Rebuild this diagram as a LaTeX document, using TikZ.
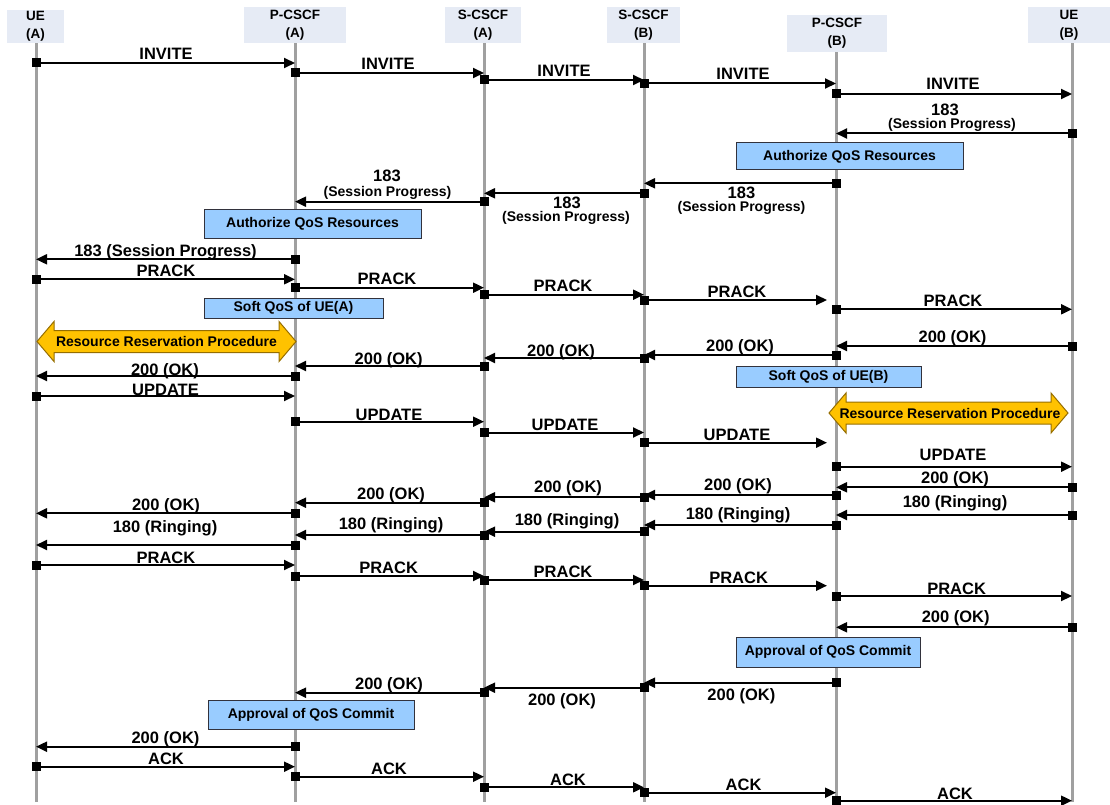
\documentclass[tikz,border=0pt]{standalone}
\usepackage{fontspec}
\setmainfont{Liberation Sans}
\usetikzlibrary{arrows.meta,calc}
\definecolor{hdrfill}{RGB}{230,235,245}
\definecolor{lifegray}{RGB}{160,160,160}
\definecolor{noteblue}{RGB}{153,204,255}
\definecolor{notedraw}{RGB}{50,50,60}
\definecolor{rrpfill}{RGB}{255,194,0}
\definecolor{rrpdraw}{RGB}{150,110,0}
\newcommand\Msg[4][]{%
  \draw[msg,#1] (#2|-0,#4) -- (#3|-0,#4);
  \fill (#2|-0,#4) +(-4.5,-4.5) rectangle +(4.5,4.5);}
\newcommand\RRP[4]{%
  \draw[rrp] (#1,#3) -- (#1+17,#3-20) -- (#1+17,#3-11) -- (#2-17,#3-11) -- (#2-17,#3-20)
    -- (#2,#3) -- (#2-17,#3+20) -- (#2-17,#3+11) -- (#1+17,#3+11) -- (#1+17,#3+20) -- cycle;}
\begin{document}
\begin{tikzpicture}[x=1pt,y=-1pt,
  hdr/.style={fill=hdrfill, inner sep=0pt, align=center, font=\fontsize{13.5}{18}\selectfont\bfseries},
  life/.style={draw=lifegray, line width=3pt},
  msg/.style={line width=2pt, -{Triangle[length=11pt,width=10pt]}},
  lbl/.style={font=\fontsize{16.5}{19}\selectfont\bfseries, anchor=base, inner sep=0pt},
  sublbl/.style={font=\fontsize{14}{17}\selectfont\bfseries, anchor=base, inner sep=0pt},
  note/.style={draw=notedraw, line width=1pt, fill=noteblue, inner sep=0pt, font=\fontsize{14}{17}\selectfont\bfseries},
  rrp/.style={draw=rrpdraw, line width=1pt, fill=rrpfill},
  rrptext/.style={inner sep=0pt, font=\fontsize{14}{17}\selectfont\bfseries}
]
\useasboundingbox (0,0) rectangle (1110,805);
% headers
\node[hdr, minimum width=57, minimum height=33] (hua) at (35.5,26.5) {UE\\(A)};
\node[hdr, minimum width=102, minimum height=36] (hpa) at (295,25) {P-CSCF\\(A)};
\node[hdr, minimum width=76, minimum height=36] (hsa) at (483,25) {S-CSCF\\(A)};
\node[hdr, minimum width=73, minimum height=36] (hsb) at (643.5,25) {S-CSCF\\(B)};
\node[hdr, minimum width=100, minimum height=37] (hpb) at (837,33.5) {P-CSCF\\(B)};
\node[hdr, minimum width=82, minimum height=36] (hub) at (1069,25) {UE\\(B)};
% lifeline positions
\coordinate (ua) at (36,0);
\coordinate (pa) at (295,0);
\coordinate (sa) at (484,0);
\coordinate (sb) at (644,0);
\coordinate (pb) at (836,0);
\coordinate (ub) at (1072,0);
\draw[life] (ua|-hua.south) -- (ua|-0,802);
\draw[life] (pa|-hpa.south) -- (pa|-0,802);
\draw[life] (sa|-hsa.south) -- (sa|-0,802);
\draw[life] (sb|-hsb.south) -- (sb|-0,802);
\draw[life] (pb|-hpb.south) -- (pb|-0,802);
\draw[life] (ub|-hub.south) -- (ub|-0,802);
% boxes
\node[note, minimum width=227, minimum height=27] (authB) at (849.5,156.5) {Authorize QoS Resources};
\node[note, minimum width=217, minimum height=29] (authA) at (312.5,223.5) {Authorize QoS Resources};
\node[note, minimum width=179, minimum height=20] (softA) at (293.5,308) {Soft QoS of UE(A)};
\node[note, minimum width=185, minimum height=21] (softB) at (828.5,376.5) {Soft QoS of UE(B)};
\node[note, minimum width=184, minimum height=30] (apprB) at (828,652) {Approval of QoS Commit};
\node[note, minimum width=206, minimum height=29] (apprA) at (311,714.5) {Approval of QoS Commit};
% resource reservation
\RRP{37}{296}{341.5}{rrpA}
\node[rrptext] (rrpA) at (166.5,341.5) {Resource Reservation Procedure};
\RRP{829}{1068}{413}{rrpB}
\node[rrptext] (rrpB) at (950,413.5) {Resource Reservation Procedure};
% messages
\Msg{ua}{pa}{63}     \node[lbl] (m1) at (166,60) {INVITE};
\Msg{pa}{sa}{73}     \node[lbl] (m2) at (388,70) {INVITE};
\Msg{sa}{sb}{80}     \node[lbl] (m3) at (564,77) {INVITE};
\Msg{sb}{pb}{83.5}   \node[lbl] (m4) at (743,80) {INVITE};
\Msg{pb}{ub}{94}     \node[lbl] (m5) at (953,90) {INVITE};
\Msg{ub}{pb}{133.5}  \node[lbl] (m6) at (945,116) {183};
                     \node[sublbl] (m6b) at (952,129) {(Session Progress)};
\Msg{pb}{sb}{183.3}  \node[lbl] (m7) at (741.5,198.5) {183};
                     \node[sublbl] (m7b) at (741.5,211.5) {(Session Progress)};
\Msg{sb}{sa}{193.3}  \node[lbl] (m8) at (567,208.3) {183};
                     \node[sublbl] (m8b) at (566,222) {(Session Progress)};
\Msg{sa}{pa}{201.7}  \node[lbl] (m9) at (387,181.7) {183};
                     \node[sublbl] (m9b) at (387.5,196.5) {(Session Progress)};
\Msg{pa}{ua}{259.3}  \node[lbl] (m10) at (165.5,256) {183 (Session Progress)};
\Msg{ua}{pa}{279.3}  \node[lbl] (m11) at (166,276.7) {PRACK};
\Msg{pa}{sa}{287.7}  \node[lbl] (m12) at (387,284.3) {PRACK};
\Msg{sa}{sb}{294.7}  \node[lbl] (m13) at (563,291.7) {PRACK};
\Msg[shorten >=9pt]{sb}{pb}{300} \node[lbl] (m14) at (737,297.7) {PRACK};
\Msg{pb}{ub}{309.3}  \node[lbl] (m15) at (953,306.7) {PRACK};
\Msg{ub}{pb}{346}    \node[lbl] (m16) at (952.5,342.7) {200 (OK)};
\Msg{pb}{sb}{355}    \node[lbl] (m17) at (740,351.7) {200 (OK)};
\Msg{sb}{sa}{358}    \node[lbl] (m18) at (561,356) {200 (OK)};
\Msg{sa}{pa}{366}    \node[lbl] (m19) at (388.6,364) {200 (OK)};
\Msg{pa}{ua}{376}    \node[lbl] (m20) at (165,375) {200 (OK)};
\Msg{ua}{pa}{396}    \node[lbl] (m21) at (165.5,395) {UPDATE};
\Msg{pa}{sa}{421.7}  \node[lbl] (m22) at (389,420) {UPDATE};
\Msg{sa}{sb}{432.5}  \node[lbl] (m23) at (565,430.7) {UPDATE};
\Msg[shorten >=9pt]{sb}{pb}{442.7} \node[lbl] (m24) at (737,440.7) {UPDATE};
\Msg{pb}{ub}{466.7}  \node[lbl] (m25) at (953,460.7) {UPDATE};
\Msg{ub}{pb}{487.3}  \node[lbl] (m26) at (955,483.3) {200 (OK)};
\Msg{pb}{sb}{495}    \node[lbl] (m27) at (738,490.7) {200 (OK)};
\Msg{sb}{sa}{497.3}  \node[lbl] (m28) at (568,492.7) {200 (OK)};
\Msg{sa}{pa}{502.7}  \node[lbl] (m29) at (391,499.3) {200 (OK)};
\Msg{pa}{ua}{513.3}  \node[lbl] (m30) at (166,510) {200 (OK)};
\Msg{ub}{pb}{515}    \node[lbl] (m31) at (955,507.3) {180 (Ringing)};
\Msg{pb}{sb}{525}    \node[lbl] (m32) at (738,519.3) {180 (Ringing)};
\Msg{sb}{sa}{531.7}  \node[lbl] (m33) at (567,525) {180 (Ringing)};
\Msg{sa}{pa}{535}    \node[lbl] (m34) at (391,529) {180 (Ringing)};
\Msg{pa}{ua}{545}    \node[lbl] (m35) at (165,532.7) {180 (Ringing)};
\Msg{ua}{pa}{565}    \node[lbl] (m36) at (166,563.3) {PRACK};
\Msg{pa}{sa}{576}    \node[lbl] (m37) at (388.6,573.3) {PRACK};
\Msg{sa}{sb}{580}    \node[lbl] (m38) at (563,577.3) {PRACK};
\Msg[shorten >=9pt]{sb}{pb}{585.7} \node[lbl] (m39) at (738.6,583.3) {PRACK};
\Msg{pb}{ub}{596}    \node[lbl] (m40) at (956.6,594) {PRACK};
\Msg{ub}{pb}{627.3}  \node[lbl] (m41) at (955.7,622.7) {200 (OK)};
\Msg{pb}{sb}{682.7}  \node[lbl] (m42) at (741.4,700) {200 (OK)};
\Msg{sb}{sa}{687.7}  \node[lbl] (m43) at (562,705.5) {200 (OK)};
\Msg{sa}{pa}{692.7}  \node[lbl] (m44) at (389,689.3) {200 (OK)};
\Msg{pa}{ua}{746.7}  \node[lbl] (m45) at (165.5,743.3) {200 (OK)};
\Msg{ua}{pa}{766.7}  \node[lbl] (m46) at (166,764) {ACK};
\Msg{pa}{sa}{776.7}  \node[lbl] (m47) at (389,774) {ACK};
\Msg{sa}{sb}{787.3}  \node[lbl] (m48) at (568,785) {ACK};
\Msg{sb}{pb}{792.7}  \node[lbl] (m49) at (743.6,790.7) {ACK};
\Msg{pb}{ub}{800.7}  \node[lbl] (m50) at (955,799) {ACK};
\end{tikzpicture}
\end{document}
